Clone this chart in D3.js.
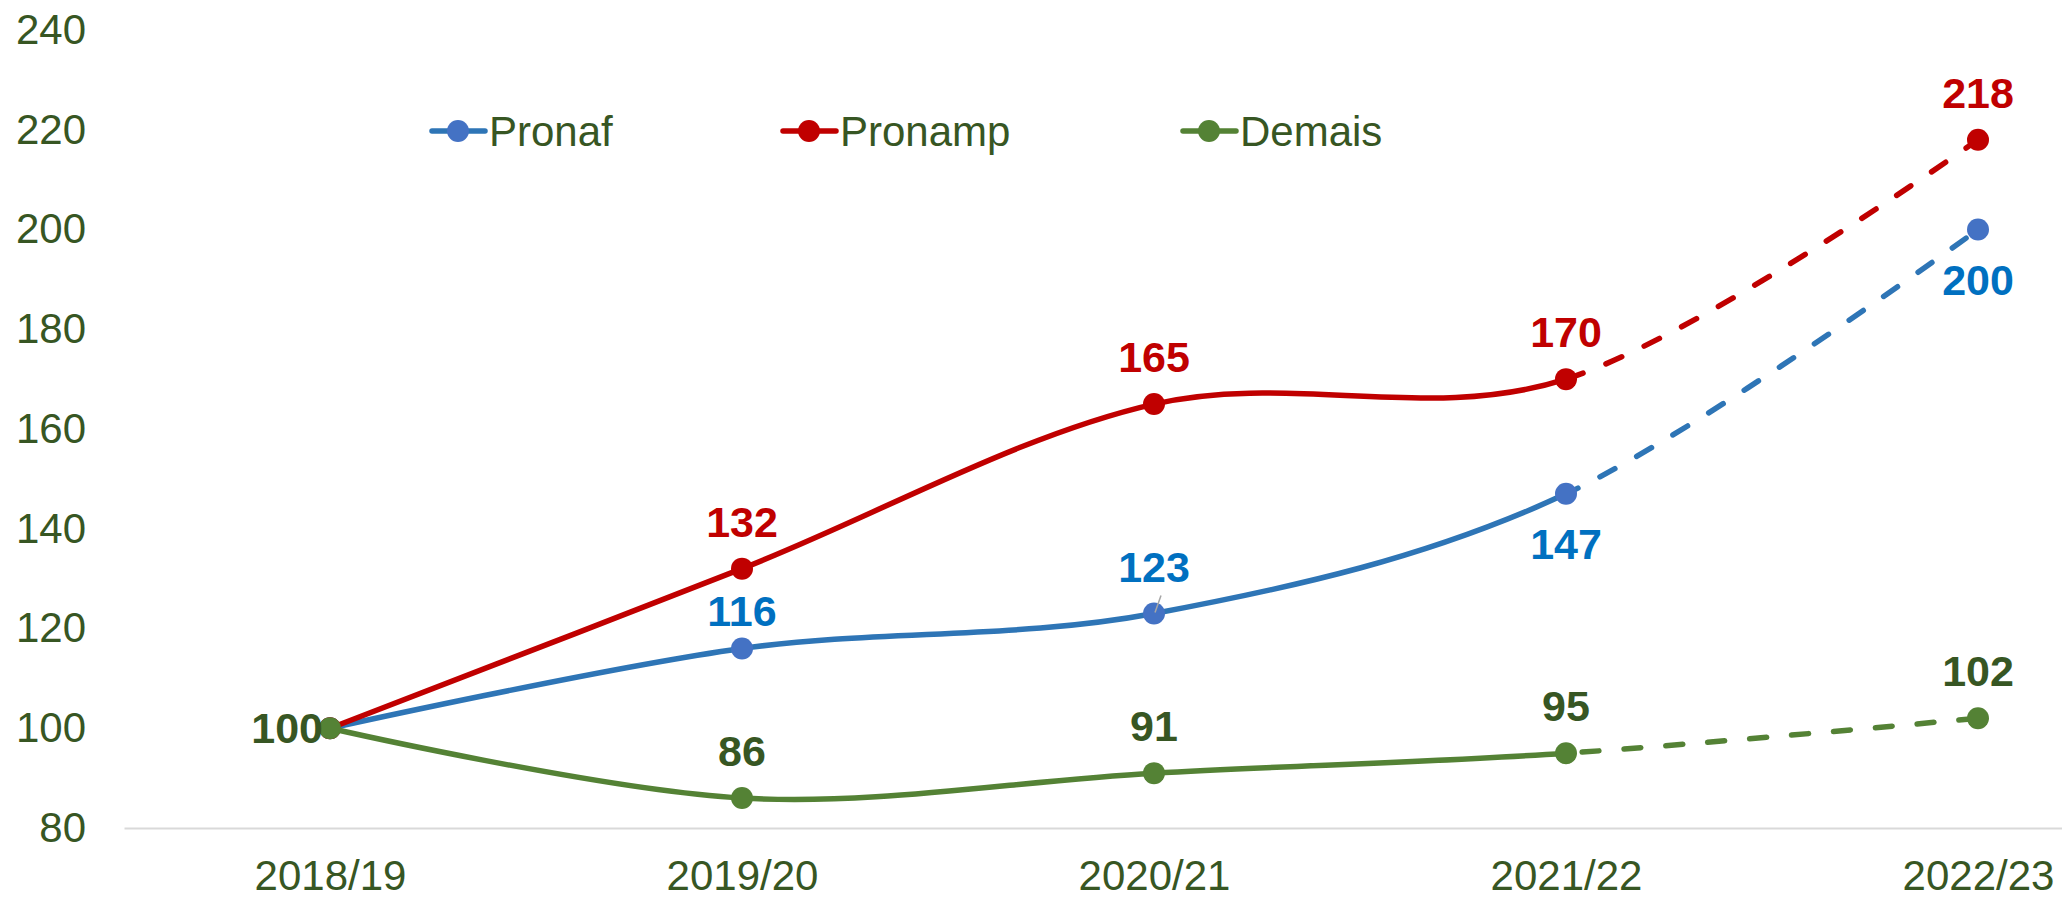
<!DOCTYPE html>
<html>
<head>
<meta charset="utf-8">
<script src="https://cdn.jsdelivr.net/npm/d3@7"></script>
<style>
  body { margin: 0; background: #fff; }
  svg { display: block; font-family: "Liberation Sans", Arial, sans-serif; }
</style>
</head>
<body>
<svg id="chart"></svg>
<script>
// data
const safras = ["2018/19", "2019/20", "2020/21", "2021/22", "2022/23"];
const pronaf = [100, 116, 123, 147, 200];
const pronamp = [100, 132, 165, 170, 218];
const demais = [100, 86, 91, 95, 102];
const yTicks = [80, 100, 120, 140, 160, 180, 200, 220, 240];

const width = 2062, height = 898;
const textColor = "#375623";

// series look + where each label sits (a = above, b = below, l = left, n = none)
const series = [
  { name: "Pronaf", values: pronaf, line: "#2E75B6", dot: "#4472C4", label: "#0070C0", pos: ["n", "a", "a", "b", "b"] },
  { name: "Pronamp", values: pronamp, line: "#C00000", dot: "#C00000", label: "#C00000", pos: ["n", "a", "a", "a", "a"] },
  { name: "Demais", values: demais, line: "#548235", dot: "#548235", label: "#375623", pos: ["l", "a", "a", "a", "a"] }
];

var svg = d3.select("#chart").attr("width", width).attr("height", height);

const x = d3.scalePoint().domain(safras).range([124, 2184]).padding(0.5);
const y = d3.scaleLinear().domain([80, 240]).range([828, 30]);

// x axis (its domain line is the grey baseline)
const xAxis = svg.append("g")
  .attr("transform", "translate(0," + y(80) + ")")
  .call(d3.axisBottom(x).tickSize(0).tickSizeOuter(0).tickPadding(32));
xAxis.select(".domain").attr("stroke", "#D9D9D9").attr("stroke-width", 2);
xAxis.selectAll("text").attr("font-size", 42).attr("fill", textColor)
  .attr("font-family", "Liberation Sans, Arial, sans-serif");

// y axis, labels only
const yAxis = svg.append("g")
  .attr("transform", "translate(86,0)")
  .call(d3.axisLeft(y).tickValues(yTicks).tickSize(0).tickPadding(0));
yAxis.select(".domain").remove();
yAxis.selectAll("text").attr("font-size", 42).attr("fill", textColor)
  .attr("font-family", "Liberation Sans, Arial, sans-serif");

// clip: solid up to 2021/22, dashed after
const split = x(safras[3]);
const defs = svg.append("defs");
defs.append("clipPath").attr("id", "solid")
  .append("rect").attr("x", 0).attr("y", 0).attr("width", split).attr("height", height);
defs.append("clipPath").attr("id", "dashed")
  .append("rect").attr("x", split).attr("y", 0).attr("width", width - split).attr("height", height);

const line = d3.line()
  .x((d, i) => x(safras[i]))
  .y(d => y(d))
  .curve(d3.curveCardinal.tension(0));

// series order: Demais ends up on top
series.forEach(s => {
  const g = svg.append("g");
  g.append("path")
    .attr("d", line(s.values))
    .attr("fill", "none")
    .attr("stroke", s.line)
    .attr("stroke-width", 5.5)
    .attr("clip-path", "url(#solid)");
  g.append("path")
    .attr("d", line(s.values))
    .attr("fill", "none")
    .attr("stroke", s.line)
    .attr("stroke-width", 5.5)
    .attr("stroke-linecap", "round")
    .attr("stroke-dasharray", "17,25")
    .attr("clip-path", "url(#dashed)");
  g.selectAll("circle")
    .data(s.values)
    .join("circle")
    .attr("cx", (d, i) => x(safras[i]))
    .attr("cy", d => y(d))
    .attr("r", 11)
    .attr("fill", s.dot);
});

// data labels
series.forEach(s => {
  svg.append("g").selectAll("text")
    .data(s.values.map((v, i) => ({ v: v, i: i, p: s.pos[i] })).filter(d => d.p !== "n"))
    .join("text")
    .attr("x", d => d.p === "l" ? x(safras[d.i]) - 7 : x(safras[d.i]))
    .attr("y", d => {
      const py = y(d.v);
      if (d.p === "a") return py - (s.name === "Pronaf" && d.i === 1 ? 37 : 47) + 15;
      if (d.p === "b") return py + 50 + 15;
      return py + 15;
    })
    .attr("text-anchor", d => d.p === "l" ? "end" : "middle")
    .attr("font-size", 43)
    .attr("font-weight", "bold")
    .attr("fill", s.label)
    .text(d => d.v);
});

// leader line for Pronaf 2020/21
svg.append("line")
  .attr("x1", x(safras[2]) + 7).attr("y1", y(pronaf[2]) - 18)
  .attr("x2", x(safras[2]) + 1).attr("y2", y(pronaf[2]) - 1)
  .attr("stroke", "#A6A6A6").attr("stroke-width", 1.5);

// legend
const legendX = [430, 781, 1181];
const legend = svg.append("g").selectAll("g")
  .data(series)
  .join("g")
  .attr("transform", (d, i) => "translate(" + legendX[i] + ",131)");
legend.append("line")
  .attr("x1", 2).attr("x2", 55)
  .attr("stroke", d => d.line).attr("stroke-width", 5.5).attr("stroke-linecap", "round");
legend.append("circle")
  .attr("cx", 28).attr("r", 11).attr("fill", d => d.dot);
legend.append("text")
  .attr("x", 59).attr("y", 15)
  .attr("font-size", 42).attr("fill", textColor)
  .text(d => d.name);
</script>
</body>
</html>
